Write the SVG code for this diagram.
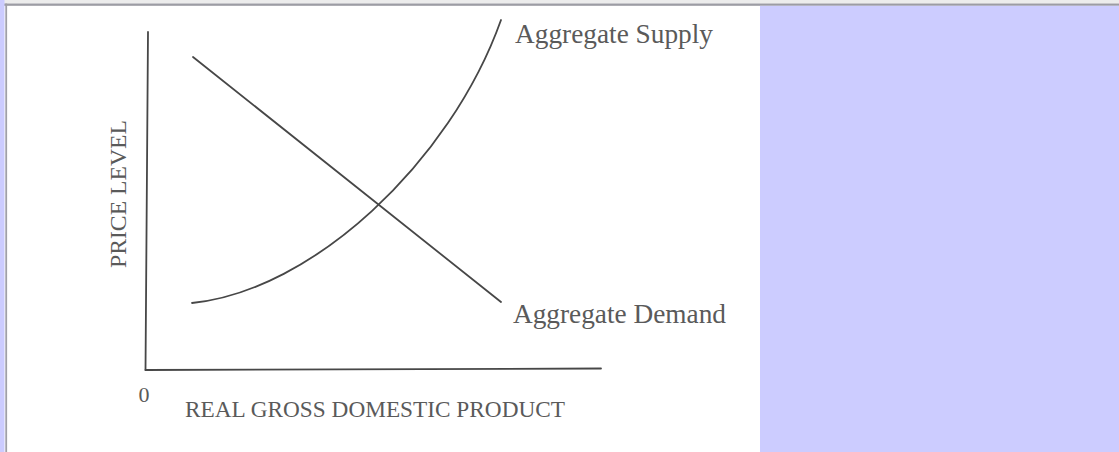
<svg xmlns="http://www.w3.org/2000/svg" width="1119" height="452" viewBox="0 0 1119 452">
  <style>
    .ln { fill: none; stroke: #474747; stroke-width: 1.8; stroke-linecap: round; }
    .tx { font-family: "Liberation Serif", "Times New Roman", serif; fill: #5a5a5a; }
  </style>
  <rect x="0" y="0" width="1119" height="452" fill="#ffffff"/>
  <g id="frame">
    <rect x="0" y="0" width="1119" height="3.5" fill="#ececec"/>
    <rect x="0" y="3.5" width="1119" height="2.3" fill="#9c9ca4"/>
    <rect x="0" y="0" width="4.5" height="452" fill="#ccccff"/>
    <rect x="5.3" y="3.5" width="1.8" height="448.5" fill="#a0a0a8"/>
    <rect x="760" y="5.8" width="359" height="446.2" fill="#ccccff"/>
  </g>
  <g id="axes">
    <path class="ln" d="M148 32 L145.5 370"/>
    <path class="ln" d="M145.5 370 L601 368.5"/>
    <text class="tx" x="144" y="401.5" font-size="22" text-anchor="middle">0</text>
    <text class="tx" x="185" y="416.5" font-size="23" textLength="380" lengthAdjust="spacingAndGlyphs">REAL GROSS DOMESTIC PRODUCT</text>
    <text class="tx" x="0" y="0" font-size="23" textLength="148" lengthAdjust="spacingAndGlyphs" transform="translate(126 268) rotate(-90)">PRICE LEVEL</text>
  </g>
  <g id="connectors">
    <path id="aggregate-demand-line" class="ln" d="M193 57 L501 302"/>
    <path id="aggregate-supply-curve" class="ln" d="M192 303 C312 291 450 163 501 20"/>
  </g>
  <g id="label-supply">
    <text class="tx" x="515" y="42.5" font-size="26.5" textLength="198" lengthAdjust="spacingAndGlyphs">Aggregate Supply</text>
  </g>
  <g id="label-demand">
    <text class="tx" x="513" y="322.5" font-size="26.5" textLength="213" lengthAdjust="spacingAndGlyphs">Aggregate Demand</text>
  </g>
</svg>
